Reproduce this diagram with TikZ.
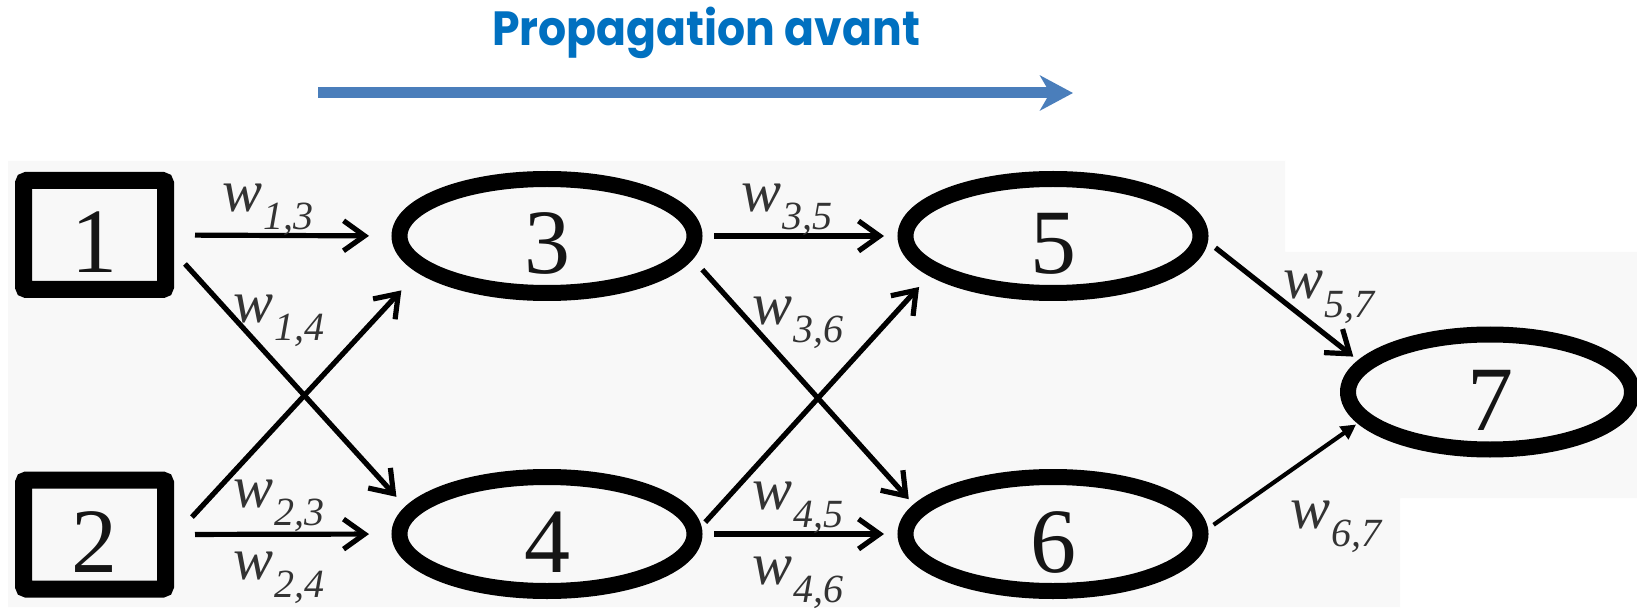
\documentclass[tikz,border=0pt]{standalone}
\usepackage{fontspec}
\setmainfont{Liberation Serif}
\newfontfamily\titlefont{Poppins}
\usetikzlibrary{arrows.meta,shapes.geometric}
\definecolor{titleblue}{HTML}{0070C0}
\definecolor{arrowblue}{HTML}{4A7EBB}
\definecolor{bgray}{HTML}{F8F8F8}
\definecolor{lblgray}{HTML}{333333}
\definecolor{digitblack}{HTML}{151515}
\newcommand{\wlab}[2]{{\fontsize{60}{60}\selectfont\itshape w}\kern1pt\raisebox{-18pt}{\fontsize{40}{40}\selectfont\itshape #1,#2}}
\begin{document}
\begin{tikzpicture}[x=1pt,y=-1pt,
  boxnode/.style={draw=black, line width=17pt, rounded corners=3pt,
    minimum width=142pt, minimum height=109pt, inner sep=0pt, outer sep=0pt,
    font=\fontsize{92}{92}\selectfont, text=digitblack, text height=76pt, text depth=0pt},
  ellnode/.style={draw=black, ellipse, line width=16pt,
    minimum width=295pt, minimum height=114pt, inner sep=0pt, outer sep=0pt,
    font=\fontsize{92}{92}\selectfont, text=digitblack, text height=76pt, text depth=0pt},
  conn/.style={line width=5.2pt, black, -{Straight Barb[length=21pt,width=30pt]}},
  connfill/.style={line width=4.2pt, black, -{Triangle[length=15pt,width=15pt]}},
  lbl/.style={anchor=base west, inner sep=0pt, text=lblgray},
  bigarrow/.style={line width=11pt, arrowblue, -{Stealth[length=33pt,width=35pt,inset=10pt]}}
]
\useasboundingbox (0,0) rectangle (1637,609);
\fill[white] (0,0) rectangle (1637,609);
\fill[bgray] (8,161) -- (1285,161) -- (1285,252) -- (1637,252) -- (1637,498)
  -- (1400,498) -- (1400,607) -- (8,607) -- cycle;

% title and forward arrow
\node[anchor=base west, inner sep=0pt, text=titleblue,
  font=\titlefont\bfseries\fontsize{48}{48}\selectfont] (title) at (492,46)
  {\scalebox{0.92}[1]{Propagation avant}};
\coordinate (bstart) at (318,93);
\coordinate (bend) at (1073,93);
\draw[bigarrow] (bstart) -- (bend);

% nodes
\node[boxnode] (b1) at (94.5,235) {1};
\node[boxnode] (b2) at (94.5,534.5) {2};
\node[ellnode] (e3) at (547,236) {3};
\node[ellnode] (e4) at (547,534) {4};
\node[ellnode] (e5) at (1053,236) {5};
\node[ellnode] (e6) at (1053,534) {6};
\node[ellnode, minimum width=284pt, minimum height=115pt] (e7) at (1490,392) {7};

% connectors
\draw[conn, shorten <=29.5pt, shorten >=30.5pt] (b1.east) -- (e3.west);
\draw[conn, shorten <=29.5pt, shorten >=30.5pt] (b2.east) -- (e4.west);
\draw[conn, shorten <=29pt, shorten >=21pt] (b1.-6.8) -- (e4.171.2);
\draw[conn, shorten <=39pt, shorten >=32pt] (b2.-9.8) -- (e3.194.2);
\draw[conn, shorten <=19.5pt, shorten >=21.5pt] (e3.east) -- (e5.west);
\draw[conn, shorten <=19.5pt, shorten >=21.5pt] (e4.east) -- (e6.west);
\draw[conn, shorten <=22pt, shorten >=15pt] (e3.-7.1) -- (e6.170.4);
\draw[conn, shorten <=16pt, shorten >=23pt] (e4.0.4) -- (e5.196.6);
\draw[conn, shorten <=19pt, shorten >=14pt] (e5.east) -- (e7.168.2);
\draw[connfill, shorten <=16pt, shorten >=10pt] (e6.east) -- (e7.192.3);

% weight labels
\node[lbl] (l13) at (222,212) {\wlab{1}{3}};
\node[lbl] (l14) at (233,323) {\wlab{1}{4}};
\node[lbl] (l23) at (233,507) {\wlab{2}{3}};
\node[lbl] (l24) at (233,579) {\wlab{2}{4}};
\node[lbl] (l35) at (741,212) {\wlab{3}{5}};
\node[lbl] (l36) at (752,324) {\wlab{3}{6}};
\node[lbl] (l45) at (752,509) {\wlab{4}{5}};
\node[lbl] (l46) at (752,584) {\wlab{4}{6}};
\node[lbl] (l57) at (1283,299) {\wlab{5}{7}};
\node[lbl] (l67) at (1290,528) {\wlab{6}{7}};
\end{tikzpicture}
\end{document}
